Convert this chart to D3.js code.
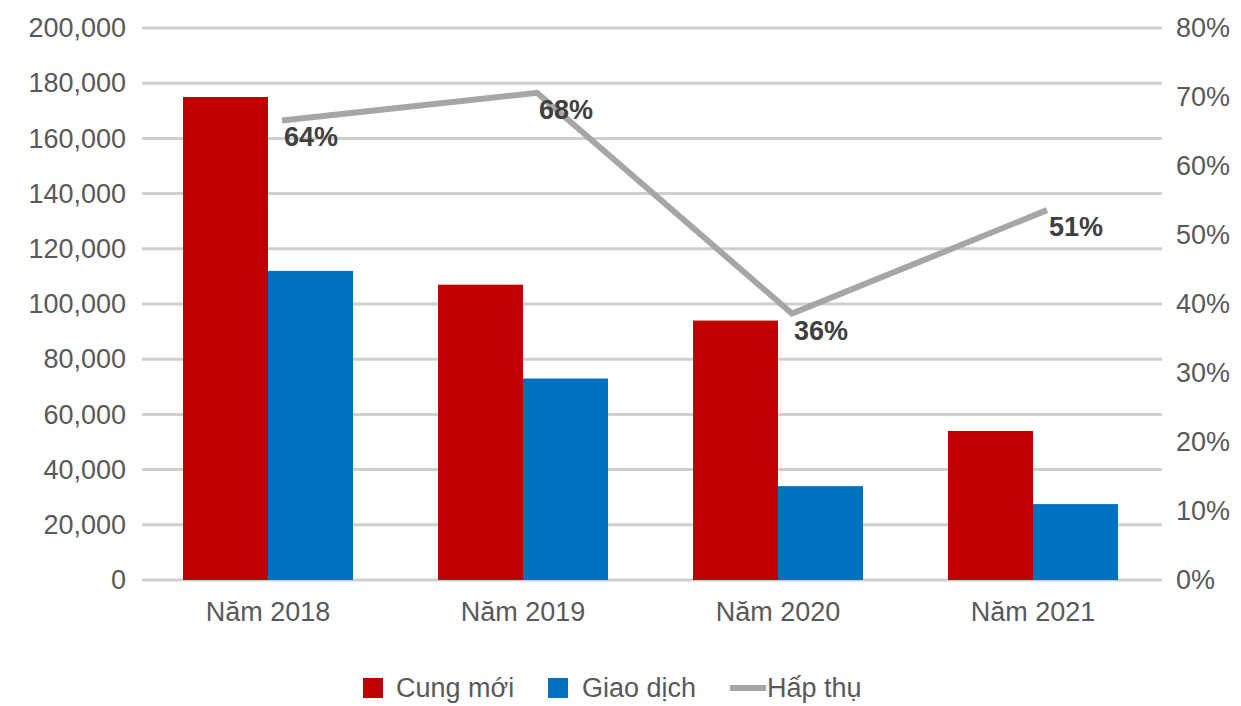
<!DOCTYPE html>
<html>
<head>
<meta charset="utf-8">
<script src="https://cdn.jsdelivr.net/npm/d3@7"></script>
<style>
  html, body { margin: 0; padding: 0; background: #fff; }
  svg { display: block; font-family: "Liberation Sans", Arial, sans-serif; }
</style>
</head>
<body>
<svg id="chart" width="1241" height="706"></svg>
<script>
// Supply, transactions and absorption rate by year
const categories = ["Năm 2018", "Năm 2019", "Năm 2020", "Năm 2021"];
const cungMoi = [175000, 107000, 94000, 54000];
const giaoDich = [112000, 73000, 34000, 27500];
const hapThu = [0.64, 0.68, 0.36, 0.51];
const leftTicks = [0, 20000, 40000, 60000, 80000, 100000, 120000, 140000, 160000, 180000, 200000];
const rightTicks = [0, 0.1, 0.2, 0.3, 0.4, 0.5, 0.6, 0.7, 0.8];
const seriesNames = ["Cung mới", "Giao dịch", "Hấp thụ"];

const colors = { cung: "#c00000", giao: "#0070c0", line: "#a6a6a6" };
const fontSize = 27;
const svg = d3.select("#chart");

const plot = { left: 140.5, right: 1160.5, top: 28, bottom: 580 };

const x = d3.scaleBand().domain(categories).range([plot.left, plot.right]).paddingInner(1 / 3).paddingOuter(1 / 6);
const xSub = d3.scaleBand().domain(["cung", "giao"]).range([0, x.bandwidth()]);
const yL = d3.scaleLinear().domain([0, 200000]).range([plot.bottom, plot.top]);
const yR = d3.scaleLinear().domain([0, 0.8]).range([plot.bottom, plot.top]);

// Gridlines
svg.append("g").selectAll("line").data(leftTicks).join("line")
  .attr("x1", 142).attr("x2", 1162)
  .attr("y1", d => yL(d)).attr("y2", d => yL(d))
  .attr("stroke", "#cfcfcf").attr("stroke-width", 3);

// Left axis
const fmt = d3.format(",");
const leftAxis = svg.append("g").attr("transform", "translate(126,0)")
  .call(d3.axisLeft(yL).tickValues(leftTicks).tickFormat(fmt).tickSize(0).tickPadding(0));
leftAxis.select(".domain").remove();
leftAxis.selectAll("text").attr("font-size", fontSize).attr("fill", "#595959")
  .attr("font-family", "Liberation Sans, Arial, sans-serif");

// Right axis
const rightAxis = svg.append("g").attr("transform", "translate(1176,0)")
  .call(d3.axisRight(yR).tickValues(rightTicks).tickFormat(d3.format(".0%")).tickSize(0).tickPadding(0));
rightAxis.select(".domain").remove();
rightAxis.selectAll("text").attr("font-size", fontSize).attr("fill", "#595959")
  .attr("font-family", "Liberation Sans, Arial, sans-serif");

// Bars
const groups = svg.append("g").selectAll("g").data(categories).join("g")
  .attr("transform", d => `translate(${x(d)},0)`);
groups.append("rect")
  .attr("x", xSub("cung")).attr("width", xSub.bandwidth())
  .attr("y", (d, i) => yL(cungMoi[i])).attr("height", (d, i) => yL(0) - yL(cungMoi[i]))
  .attr("fill", colors.cung);
groups.append("rect")
  .attr("x", xSub("giao")).attr("width", xSub.bandwidth())
  .attr("y", (d, i) => yL(giaoDich[i])).attr("height", (d, i) => yL(0) - yL(giaoDich[i]))
  .attr("fill", colors.giao);

// Category labels
svg.append("g").selectAll("text").data(categories).join("text")
  .attr("x", d => x(d) + x.bandwidth() / 2).attr("y", 612)
  .attr("text-anchor", "middle").attr("dominant-baseline", "central")
  .attr("font-size", fontSize).attr("fill", "#595959").text(d => d);

// Absorption line (drawn slightly offset from the data labels)
const lineGen = d3.line()
  .x((d, i) => x(categories[i]) + x.bandwidth() / 2)
  .y(d => yR(d));
svg.append("g").attr("transform", "translate(14,-18)")
  .append("path").datum(hapThu)
  .attr("d", lineGen).attr("fill", "none")
  .attr("stroke", colors.line).attr("stroke-width", 6).attr("stroke-linejoin", "miter");

// Line value labels
svg.append("g").selectAll("text").data(hapThu).join("text")
  .attr("x", (d, i) => x(categories[i]) + x.bandwidth() / 2 + 16)
  .attr("y", d => yR(d) - 1)
  .attr("dominant-baseline", "central")
  .attr("font-size", fontSize).attr("font-weight", "bold").attr("fill", "#404040")
  .text(d => d3.format(".0%")(d));

// Legend
const legend = svg.append("g");
const legendY = 688;
legend.append("rect").attr("x", 363).attr("y", legendY - 10).attr("width", 20).attr("height", 20).attr("fill", colors.cung);
legend.append("text").attr("x", 396).attr("y", legendY).attr("dominant-baseline", "central")
  .attr("font-size", fontSize).attr("fill", "#595959").text(seriesNames[0]);
legend.append("rect").attr("x", 548).attr("y", legendY - 10).attr("width", 20).attr("height", 20).attr("fill", colors.giao);
legend.append("text").attr("x", 582).attr("y", legendY).attr("dominant-baseline", "central")
  .attr("font-size", fontSize).attr("fill", "#595959").text(seriesNames[1]);
legend.append("line").attr("x1", 730).attr("x2", 766).attr("y1", legendY).attr("y2", legendY)
  .attr("stroke", colors.line).attr("stroke-width", 6);
legend.append("text").attr("x", 767).attr("y", legendY).attr("dominant-baseline", "central")
  .attr("font-size", fontSize).attr("fill", "#595959").text(seriesNames[2]);
</script>
</body>
</html>
